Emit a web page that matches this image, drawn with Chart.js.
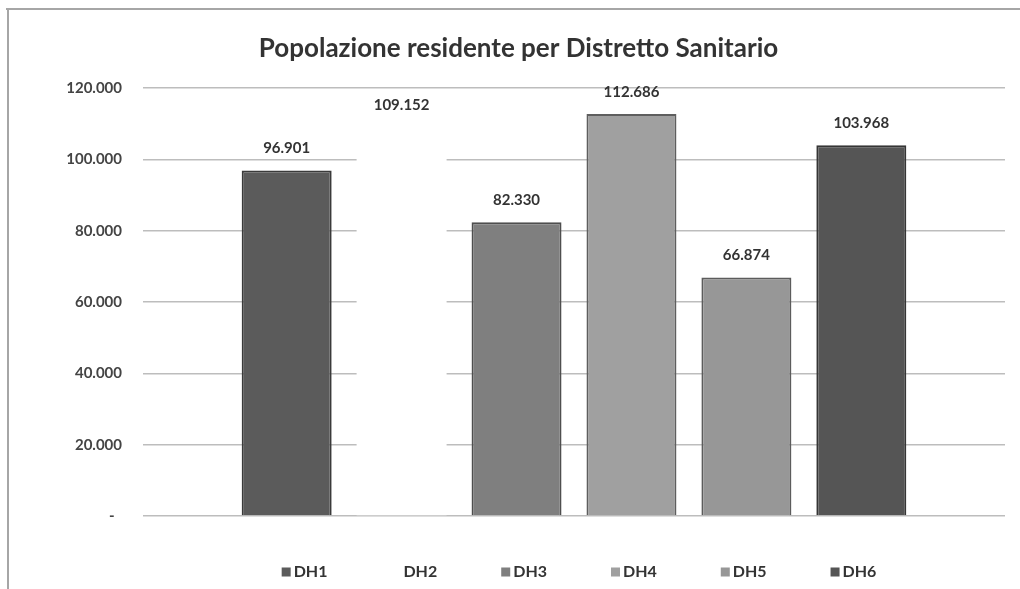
<!DOCTYPE html>
<html>
<head>
<meta charset="utf-8">
<script src="https://cdn.jsdelivr.net/npm/chart.js@4.4.1/dist/chart.umd.min.js"></script>
<style>
  html, body { margin: 0; padding: 0; background: #fff; }
  #wrap { width: 1020px; height: 589px; position: relative; }
</style>
</head>
<body>
<div id="wrap"><canvas id="popChart"></canvas></div>
<script>
// Districts and resident population
const districts = ['DH1', 'DH2', 'DH3', 'DH4', 'DH5', 'DH6'];
const population = [96901, 109152, 82330, 112686, 66874, 103968];
const barColors = ['#5b5b5b', '#ffffff', '#7f7f7f', '#a0a0a0', '#979797', '#555555'];
const edgeColors = ['#3a3a3a', '#ffffff', '#4e4e4e', '#5e5e5e', '#5c5c5c', '#353535'];
const yTicks = [0, 20000, 40000, 60000, 80000, 100000, 120000];

const FONT = 'Lato, "Liberation Sans", sans-serif';

// 96901 -> "96.901"
const fmt = (v) => String(v).replace(/\B(?=(\d{3})+(?!\d))/g, '.');

// Frame of the scanned chart box
const framePlugin = {
    id: 'frame',
    beforeDraw(chart) {
        const ctx = chart.ctx;
        ctx.save();
        ctx.fillStyle = '#ffffff';
        ctx.fillRect(0, 0, chart.width, chart.height);
        ctx.strokeStyle = '#a6a6a6';
        ctx.lineWidth = 2;
        ctx.beginPath();
        ctx.moveTo(6, 9);
        ctx.lineTo(chart.width, 9);
        ctx.moveTo(8, 8);
        ctx.lineTo(8, chart.height);
        ctx.stroke();
        ctx.restore();
    }
};

// Value labels above each bar
const valueLabels = {
    id: 'valueLabels',
    afterDatasetsDraw(chart) {
        const ctx = chart.ctx;
        ctx.save();
        ctx.font = 'bold 15px ' + FONT;
        ctx.fillStyle = '#333333';
        ctx.textAlign = 'center';
        ctx.textBaseline = 'middle';
        chart.data.datasets.forEach((ds, i) => {
            const bar = chart.getDatasetMeta(i).data[0];
            ctx.fillText(fmt(ds.data[0]), bar.x, bar.y - 22);
        });
        ctx.restore();
    }
};

// Legend row under the plot (square + name)
const bottomLegend = {
    id: 'bottomLegend',
    afterDraw(chart) {
        const ctx = chart.ctx;
        ctx.save();
        ctx.font = 'bold 16px ' + FONT;
        ctx.textBaseline = 'middle';
        const box = 9, gap = 3, spacing = 64;
        const widths = chart.data.datasets.map(ds => box + gap + ctx.measureText(ds.label).width);
        const total = widths.reduce((a, b) => a + b, 0) + spacing * (widths.length - 1);
        let x = 579 - total / 2;
        const y = 572;
        chart.data.datasets.forEach((ds, i) => {
            ctx.fillStyle = ds.backgroundColor;
            ctx.fillRect(x, y - box / 2, box, box);
            ctx.fillStyle = '#333333';
            ctx.fillText(ds.label, x + box + gap, y);
            x += widths[i] + spacing;
        });
        ctx.restore();
    }
};

const datasets = districts.map((name, i) => ({
    label: name,
    data: [population[i]],
    backgroundColor: barColors[i],
    borderColor: edgeColors[i],
    borderWidth: i === 1 ? 0 : 2,
    categoryPercentage: 0.8,
    barPercentage: 0.783
}));

new Chart(document.getElementById('popChart'), {
    type: 'bar',
    data: { labels: [''], datasets: datasets },
    options: {
        responsive: true,
        maintainAspectRatio: false,
        animation: false,
        layout: { padding: { left: 32, right: 15, top: 0, bottom: 73 } },
        plugins: {
            legend: { display: false },
            tooltip: { enabled: false },
            title: {
                display: true,
                text: 'Popolazione residente per Distretto Sanitario',
                color: '#333333',
                font: { family: FONT, size: 26, weight: 'bold', lineHeight: 1.2 },
                padding: { top: 33, bottom: 23.8 }
            }
        },
        scales: {
            x: { display: false },
            y: {
                min: 0,
                max: 120000,
                afterFit: (scale) => { scale.width = 111; },
                afterBuildTicks: (scale) => { scale.ticks = yTicks.map(v => ({ value: v })); },
                border: { display: false },
                grid: { color: '#bdbdbd', lineWidth: 1.5, drawTicks: false },
                ticks: {
                    padding: 21,
                    color: '#444444',
                    font: { family: FONT, size: 15, weight: 'bold' },
                    callback: (v) => v === 0 ? '-  ' : fmt(v)
                }
            }
        }
    },
    plugins: [framePlugin, valueLabels, bottomLegend]
});
</script>
</body>
</html>
